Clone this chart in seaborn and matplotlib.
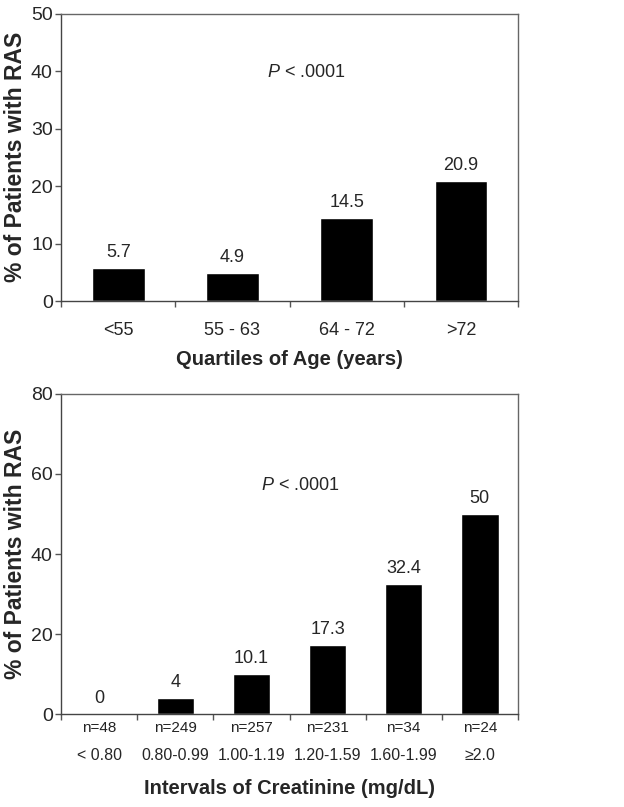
import numpy as np
import pandas as pd
import matplotlib
matplotlib.use("Agg")
import matplotlib.pyplot as plt
import seaborn as sns

# Data
age_groups = ['<55', '55 - 63', '64 - 72', '>72']
age_ras = [5.7, 4.9, 14.5, 20.9]
age_labels = ['5.7', '4.9', '14.5', '20.9']

creat_groups = ['< 0.80', '0.80-0.99', '1.00-1.19', '1.20-1.59', '1.60-1.99', '\u22652.0']
creat_n = ['n=48', 'n=249', 'n=257', 'n=231', 'n=34', 'n=24']
creat_ras = [0, 4, 10.1, 17.3, 32.4, 50]
creat_labels = ['0', '4', '10.1', '17.3', '32.4', '50']

sns.set_style('white')
plt.rcParams['font.family'] = ['Liberation Sans', 'DejaVu Sans']
plt.rcParams['mathtext.fontset'] = 'custom'
plt.rcParams['mathtext.rm'] = 'Liberation Sans'
plt.rcParams['mathtext.it'] = 'Liberation Sans:italic'

fig = plt.figure(figsize=(6.24, 8.07), dpi=100)
ax1 = fig.add_axes([0.098, 0.627, 0.732, 0.356])
ax2 = fig.add_axes([0.098, 0.115, 0.732, 0.397])

df_age = pd.DataFrame({'group': age_groups, 'ras': age_ras})
df_cr = pd.DataFrame({'group': creat_groups, 'ras': creat_ras})

sns.barplot(data=df_age, x='group', y='ras', color='black', width=0.46,
            saturation=1, ax=ax1)
sns.barplot(data=df_cr, x='group', y='ras', color='black', width=0.49,
            saturation=1, ax=ax2)


def style_axes(ax, n, ymax, step):
    ax.set_ylim(0, ymax)
    ax.set_xlim(-0.5, n - 0.5)
    ax.set_yticks(np.arange(0, ymax + 1, step))
    ax.set_xticks(np.arange(-0.5, n, 1.0), minor=True)
    ax.tick_params(axis='x', which='major', length=0, labelsize=13, pad=14)
    ax.tick_params(axis='x', which='minor', length=4, width=1, color='#555555',
                   direction='out', bottom=True)
    ax.tick_params(axis='y', length=4, width=1, color='#555555', direction='out',
                   left=True, labelsize=14, pad=2)
    for s in ax.spines.values():
        s.set_color('#666666')
        s.set_linewidth(1.0)
    ax.spines['left'].set_color('#444444')
    ax.spines['bottom'].set_color('#444444')


style_axes(ax1, len(age_groups), 50, 10)
style_axes(ax2, len(creat_groups), 80, 20)

ax1.tick_params(axis='x', which='major', pad=15)
ax2.tick_params(axis='x', which='major', pad=24, labelsize=11.5)

for i, (v, lab) in enumerate(zip(age_ras, age_labels)):
    ax1.annotate(lab, (i, v), xytext=(0, 5), textcoords='offset points',
                 ha='center', va='bottom', fontsize=13)
for i, (v, lab) in enumerate(zip(creat_ras, creat_labels)):
    ax2.annotate(lab, (i, v), xytext=(0, 5), textcoords='offset points',
                 ha='center', va='bottom', fontsize=13)

for i, lab in enumerate(creat_n):
    ax2.annotate(lab, (i, 0), xycoords=('data', 'axes fraction'),
                 xytext=(0, -5), textcoords='offset points',
                 ha='center', va='top', fontsize=11, color='#222222')

ax1.text(1.65, 39.7, r'$\it{P}$ < .0001', ha='center', va='center', fontsize=13)
ax2.text(2.64, 57, r'$\it{P}$ < .0001', ha='center', va='center', fontsize=13)

ax1.set_xlabel('Quartiles of Age (years)', fontsize=14.5, fontweight='bold', labelpad=8)
ax2.set_xlabel('Intervals of Creatinine (mg/dL)', fontsize=14.5, fontweight='bold', labelpad=12)
ax1.set_ylabel('% of Patients with RAS', fontsize=16.5, fontweight='bold', labelpad=3)
ax2.set_ylabel('% of Patients with RAS', fontsize=16.5, fontweight='bold', labelpad=3)

fig.savefig('out.png', dpi=100, facecolor='white')
